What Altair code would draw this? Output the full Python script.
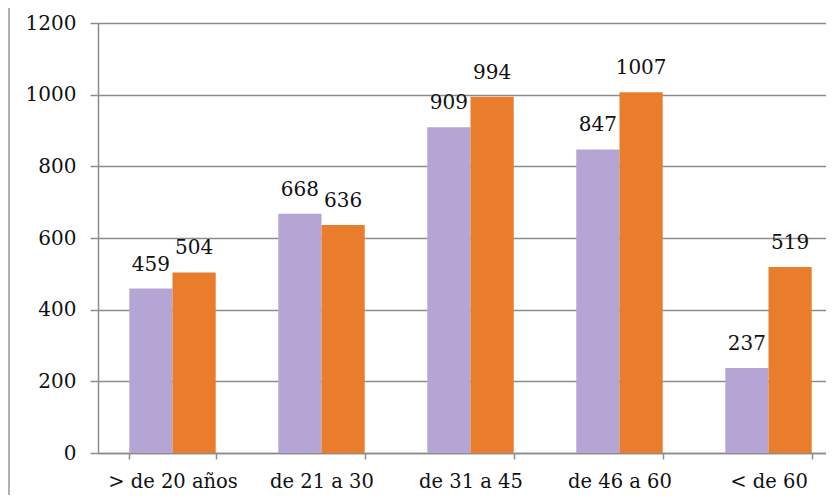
import altair as alt
import pandas as pd

categories = ["> de 20 años", "de 21 a 30", "de 31 a 45", "de 46 a 60", "< de 60"]
series_names = ["Serie 1", "Serie 2"]
serie1 = [459, 668, 909, 847, 237]
serie2 = [504, 636, 994, 1007, 519]
y_ticks = [0, 200, 400, 600, 800, 1000, 1200]
colors = ["#B4A5D4", "#EA7D2B"]

rows = []
for c, a, b in zip(categories, serie1, serie2):
    rows.append({"cat": c, "series": series_names[0], "value": a})
    rows.append({"cat": c, "series": series_names[1], "value": b})
df = pd.DataFrame(rows)

FONT = "DejaVu Serif"

x = alt.X(
    "cat:N",
    sort=categories,
    title=None,
    scale=alt.Scale(range=[0, 745], paddingInner=0.42, paddingOuter=0.21),
    axis=alt.Axis(
        labelAngle=0, tickBand="extent", tickSize=6, labelPadding=13,
        labelFont=FONT, labelFontSize=19.5, labelColor="#111111",
        domainColor="#8c8c8c", tickColor="#8c8c8c", domainWidth=1.5, tickWidth=1.5,
        grid=False,
    ),
)
xo = alt.XOffset("series:N", sort=series_names,
                 scale=alt.Scale(paddingInner=0, paddingOuter=0))
y = alt.Y(
    "value:Q",
    title=None,
    scale=alt.Scale(domain=[0, 1200], nice=False),
    axis=alt.Axis(
        values=y_ticks, format="d", tickSize=8, labelPadding=14,
        labelFont=FONT, labelFontSize=20, labelColor="#111111",
        domainColor="#8c8c8c", tickColor="#8c8c8c", gridColor="#8c8c8c",
        domainWidth=1.5, tickWidth=1.5, gridWidth=1.5,
    ),
)

base = alt.Chart(df)
bars = base.mark_bar().encode(
    x=x, xOffset=xo, y=y,
    color=alt.Color("series:N", sort=series_names,
                    scale=alt.Scale(domain=series_names, range=colors), legend=None),
)
labels = base.mark_text(font=FONT, fontSize=20, baseline="alphabetic", dy=-18,
                        color="#111111").encode(
    x=x, xOffset=xo, y=y, text=alt.Text("value:Q", format="d"),
)
frame = alt.Chart(pd.DataFrame({"k": [0]})).mark_rule(color="#b0b0b0", strokeWidth=2).encode(
    x=alt.value(-89), y=alt.value(-15), y2=alt.value(480),
)

chart = alt.layer(bars, labels, frame).properties(
    width=728, height=430,
    autosize=alt.AutoSizeParams(type="none"),
    padding={"left": 90, "top": 15, "right": 0, "bottom": 42},
).configure_view(stroke=None).configure(background="white")

chart.save("out.html", embed_options={"renderer": "svg", "actions": False})
